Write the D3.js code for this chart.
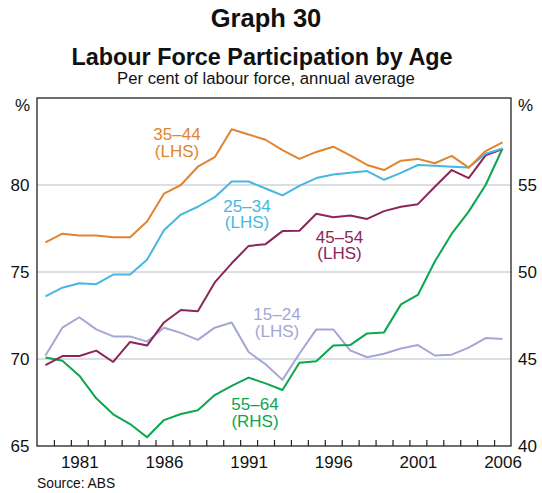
<!DOCTYPE html>
<html>
<head>
<meta charset="utf-8">
<script src="https://cdn.jsdelivr.net/npm/d3@7"></script>
<style>
  body { margin: 0; background: #fff; }
  svg { font-family: Arial, "Liberation Sans", Helvetica, sans-serif; }
</style>
</head>
<body>
<div id="container"></div>
<script>
// years 1979..2006, annual averages
const years = d3.range(1979, 2007);

const age15_24 = [70.2, 71.8, 72.4, 71.7, 71.3, 71.3, 71.0, 71.8, 71.5, 71.1, 71.8, 72.1, 70.4, 69.7, 68.8, 70.3, 71.7, 71.7, 70.5, 70.1, 70.3, 70.6, 70.8, 70.2, 70.25, 70.65, 71.2, 71.15];
const age25_34 = [73.6, 74.1, 74.35, 74.3, 74.85, 74.85, 75.7, 77.4, 78.3, 78.75, 79.3, 80.2, 80.2, 79.8, 79.4, 79.95, 80.4, 80.6, 80.7, 80.8, 80.3, 80.7, 81.15, 81.1, 81.05, 81.0, 81.8, 82.1];
const age35_44 = [76.7, 77.2, 77.1, 77.1, 77.0, 77.0, 77.9, 79.5, 80.0, 81.05, 81.6, 83.2, 82.9, 82.6, 82.0, 81.5, 81.9, 82.2, 81.7, 81.15, 80.86, 81.4, 81.5, 81.25, 81.67, 81.0, 81.95, 82.45];
const age45_54 = [69.65, 70.17, 70.17, 70.48, 69.83, 70.98, 70.77, 72.1, 72.82, 72.74, 74.4, 75.5, 76.5, 76.6, 77.35, 77.37, 78.35, 78.15, 78.25, 78.05, 78.5, 78.75, 78.9, 79.9, 80.86, 80.4, 81.7, 82.07];
const age55_64 = [45.08, 44.9, 44.04, 42.74, 41.82, 41.26, 40.5, 41.49, 41.84, 42.05, 42.93, 43.45, 43.93, 43.6, 43.22, 44.79, 44.87, 45.77, 45.8, 46.47, 46.53, 48.14, 48.68, 50.6, 52.2, 53.47, 55.0, 57.1];

const leftTicks = [65, 70, 75, 80];
const rightTicks = [40, 45, 50, 55];
const gridTicks = [70, 75, 80];
const xLabelYears = [1981, 1986, 1991, 1996, 2001, 2006];

const width = 542, height = 493;
const margin = {left: 37, right: 31, top: 98, bottom: 47};

const svg = d3.select("#container")
  .append("svg")
  .attr("width", width)
  .attr("height", height);

const x = d3.scaleLinear().domain([1979, 2007]).range([margin.left, width - margin.right]);
const yL = d3.scaleLinear().domain([65, 85]).range([height - margin.bottom, margin.top]);
const yR = d3.scaleLinear().domain([40, 60]).range([height - margin.bottom, margin.top]);

// titles
svg.append("text").attr("x", 266).attr("y", 27).attr("text-anchor", "middle")
  .attr("font-size", "25.5px").attr("font-weight", "bold").attr("fill", "#111").text("Graph 30");
svg.append("text").attr("x", 262).attr("y", 65).attr("text-anchor", "middle")
  .attr("font-size", "23.4px").attr("font-weight", "bold").attr("fill", "#111").text("Labour Force Participation by Age");
svg.append("text").attr("x", 266).attr("y", 84).attr("text-anchor", "middle")
  .attr("font-size", "16.7px").attr("fill", "#111").text("Per cent of labour force, annual average");

// gridlines
svg.append("g")
  .selectAll("line")
  .data(gridTicks)
  .join("line")
  .attr("x1", x(1979)).attr("x2", x(2007))
  .attr("y1", d => yL(d)).attr("y2", d => yL(d))
  .attr("stroke", "#b9bec4")
  .attr("stroke-width", 1.2);

// lines
const series = [
  {values: age15_24, scale: yL, color: "#a3a7d3"},
  {values: age55_64, scale: yR, color: "#0ca64e"},
  {values: age45_54, scale: yL, color: "#8c2559"},
  {values: age25_34, scale: yL, color: "#48b6e2"},
  {values: age35_44, scale: yL, color: "#e0852f"}
];

series.forEach(s => {
  const line = d3.line()
    .x((d, i) => x(years[i] + 0.5))
    .y(d => s.scale(d));
  svg.append("path")
    .datum(s.values)
    .attr("d", line)
    .attr("fill", "none")
    .attr("stroke", s.color)
    .attr("stroke-width", 2)
    .attr("stroke-linejoin", "round");
});

// frame
svg.append("rect")
  .attr("x", x(1979)).attr("y", yL(85))
  .attr("width", x(2007) - x(1979)).attr("height", yL(65) - yL(85))
  .attr("fill", "none").attr("stroke", "#222").attr("stroke-width", 1.3);

// x ticks (inward, at year boundaries)
svg.append("g")
  .attr("transform", `translate(0,${yL(65)})`)
  .call(d3.axisBottom(x).tickValues(d3.range(1980, 2007)).tickSize(-6).tickFormat(""))
  .call(g => g.select(".domain").remove())
  .call(g => g.selectAll("line").attr("stroke", "#222").attr("stroke-width", 1.2));

// x labels, centred on the year
svg.append("g")
  .attr("transform", `translate(0,${yL(65)})`)
  .call(d3.axisBottom(x).tickValues(xLabelYears.map(d => d + 0.5)).tickSize(0).tickPadding(10).tickFormat(d => Math.floor(d)))
  .call(g => g.select(".domain").remove())
  .call(g => g.selectAll("text").attr("font-size", "17px").attr("fill", "#111").attr("font-family", null));

// left axis labels
svg.append("g")
  .attr("transform", `translate(${x(1979)},0)`)
  .call(d3.axisLeft(yL).tickValues(leftTicks).tickSize(0).tickPadding(7.5))
  .call(g => g.select(".domain").remove())
  .call(g => g.selectAll("text").attr("font-size", "17px").attr("fill", "#111").attr("font-family", null));

// right axis labels
svg.append("g")
  .attr("transform", `translate(${x(2007)},0)`)
  .call(d3.axisRight(yR).tickValues(rightTicks).tickSize(0).tickPadding(7))
  .call(g => g.select(".domain").remove())
  .call(g => g.selectAll("text").attr("font-size", "17px").attr("fill", "#111").attr("font-family", null));

svg.append("text").attr("x", 30).attr("y", 111).attr("text-anchor", "end")
  .attr("font-size", "17px").attr("fill", "#111").text("%");
svg.append("text").attr("x", 518).attr("y", 111).attr("text-anchor", "start")
  .attr("font-size", "17px").attr("fill", "#111").text("%");

// series labels
const labels = [
  {x: 177, y: 140, text: ["35–44", "(LHS)"], color: "#e0852f"},
  {x: 247, y: 211.5, text: ["25–34", "(LHS)"], color: "#48b6e2"},
  {x: 339.5, y: 242.5, text: ["45–54", "(LHS)"], color: "#8c2559"},
  {x: 277, y: 320, text: ["15–24", "(LHS)"], color: "#a3a7d3"},
  {x: 255, y: 410, text: ["55–64", "(RHS)"], color: "#0ca64e"}
];

labels.forEach(l => {
  const t = svg.append("text")
    .attr("text-anchor", "middle")
    .attr("font-size", "17px")
    .attr("fill", l.color);
  l.text.forEach((s, i) => {
    t.append("tspan").attr("x", l.x).attr("y", l.y + i * 16.5).text(s);
  });
});

svg.append("text").attr("x", 37).attr("y", 488)
  .attr("font-size", "13.8px").attr("fill", "#111").text("Source: ABS");
</script>
</body>
</html>
